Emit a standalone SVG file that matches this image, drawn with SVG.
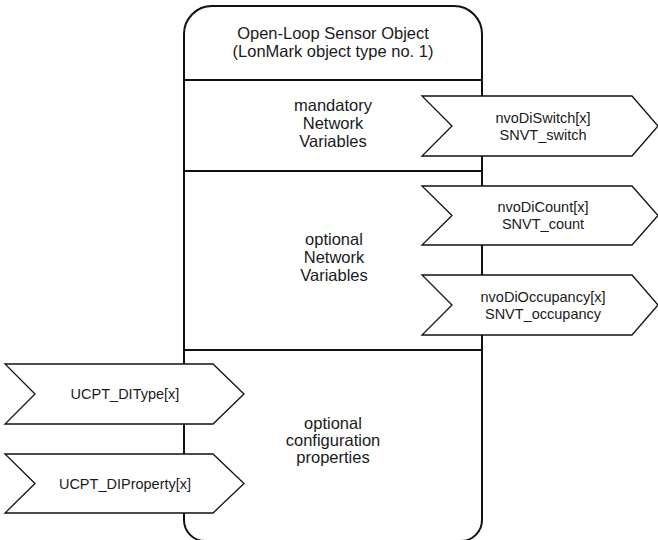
<svg xmlns="http://www.w3.org/2000/svg" width="658" height="540" viewBox="0 0 658 540">
<style>
.box{fill:#fff;stroke:#111;stroke-width:2}
.div{stroke:#111;stroke-width:2;fill:none}
.arr{fill:#fff;stroke:#111;stroke-width:1.3;stroke-linejoin:miter}
text{font-family:"Liberation Sans",Arial,sans-serif;fill:#1a1a1a;text-anchor:middle}
.t{font-size:16.5px}
.a{font-size:14.5px}
</style>
<rect width="658" height="540" fill="#fff"/>
<g id="sensor-object">
<path class="box" d="M184,34 A28,28 0 0 1 212,6 L454,6 A28,28 0 0 1 482,34 L482,520 A21,21 0 0 1 461,541 L205,541 A21,21 0 0 1 184,520 Z"/>
<text class="t" x="333" y="39">Open-Loop Sensor Object</text>
<text class="t" x="333" y="57">(LonMark object type no. 1)</text>
</g>
<g id="connectors">
<line class="div" x1="184" y1="80" x2="482" y2="80"/>
<line class="div" x1="184" y1="171" x2="482" y2="171"/>
<line class="div" x1="184" y1="350" x2="482" y2="350"/>
</g>
<g id="mandatory-nv">
<text class="t" x="333" y="111">mandatory</text>
<text class="t" x="333" y="129">Network</text>
<text class="t" x="333" y="147">Variables</text>
</g>
<g id="optional-nv">
<text class="t" x="334" y="245">optional</text>
<text class="t" x="334" y="263">Network</text>
<text class="t" x="334" y="281">Variables</text>
</g>
<g id="optional-cp">
<text class="t" x="333" y="429">optional</text>
<text class="t" x="333" y="446">configuration</text>
<text class="t" x="333" y="463">properties</text>
</g>
<g id="nvoDiSwitch">
<polygon class="arr" points="422,96 632,96 658,126 632,156 422,156 452,126"/>
<text class="a" x="543" y="123">nvoDiSwitch[x]</text>
<text class="a" x="543" y="140">SNVT_switch</text>
</g>
<g id="nvoDiCount">
<polygon class="arr" points="422,186 632,186 658,215.5 632,245 422,245 452,215.5"/>
<text class="a" x="543" y="212">nvoDiCount[x]</text>
<text class="a" x="543" y="229">SNVT_count</text>
</g>
<g id="nvoDiOccupancy">
<polygon class="arr" points="422,275 632,275 658,305 632,335 422,335 452,305"/>
<text class="a" x="543" y="301.5">nvoDiOccupancy[x]</text>
<text class="a" x="543" y="318.5">SNVT_occupancy</text>
</g>
<g id="UCPT_DIType">
<polygon class="arr" points="5,364 213,364 244,394 213,424 5,424 35,394"/>
<text class="a" x="125" y="399">UCPT_DIType[x]</text>
</g>
<g id="UCPT_DIProperty">
<polygon class="arr" points="5,454 213,454 244,483.5 213,513 5,513 35,483.5"/>
<text class="a" x="125" y="489">UCPT_DIProperty[x]</text>
</g>
</svg>
